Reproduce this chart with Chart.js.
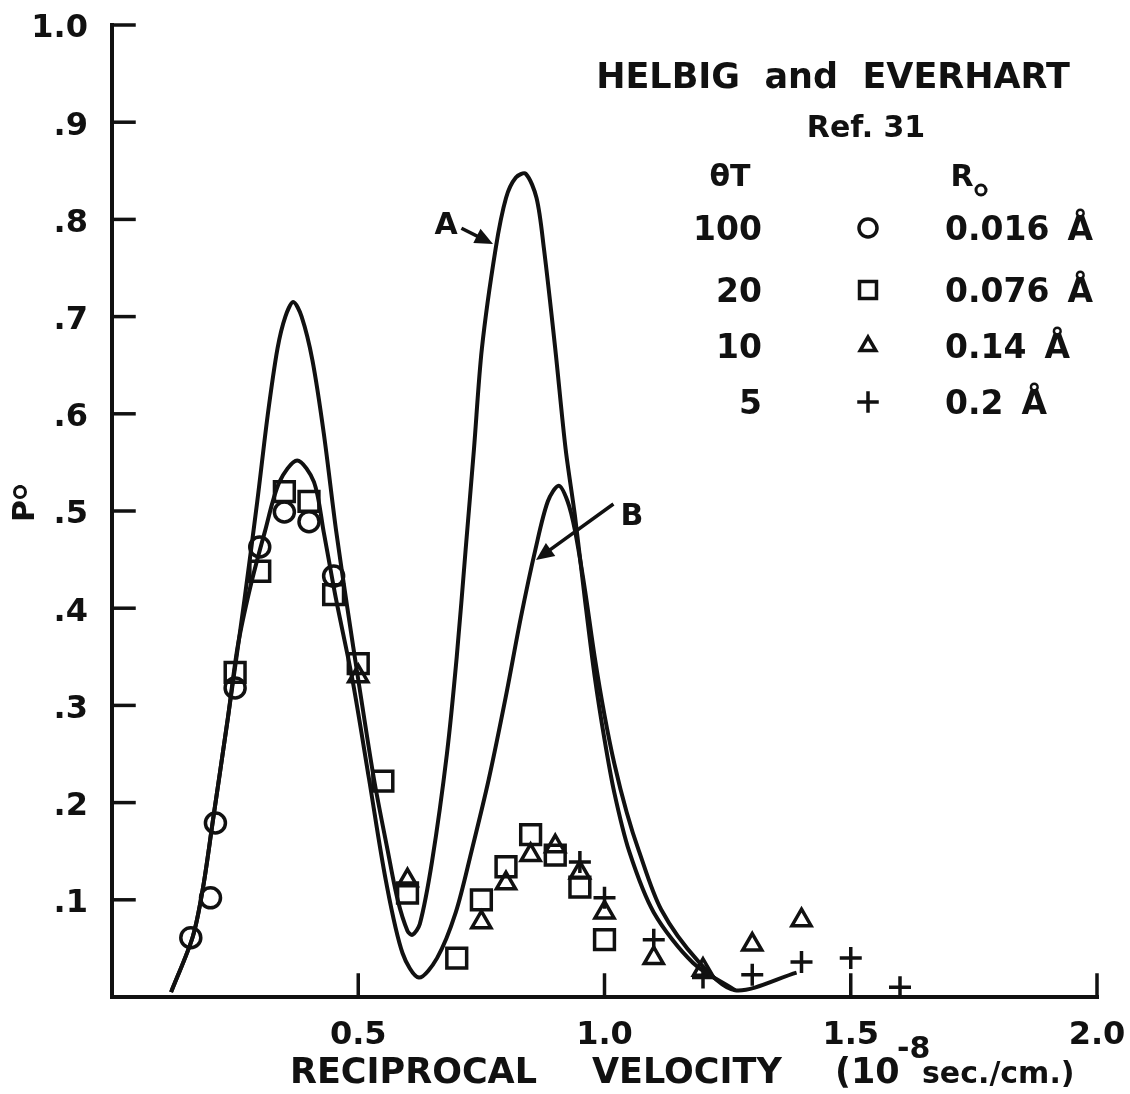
<!DOCTYPE html>
<html>
<head>
<meta charset="utf-8">
<script src="https://cdn.jsdelivr.net/npm/chart.js@4"></script>
<style>
  body { margin: 0; background: #fff; }
  #wrap { width: 1130px; height: 1094px; }
</style>
</head>
<body>
<div id="wrap"><canvas id="chart" width="1130" height="1094"></canvas></div>
<script>
// Data (x = reciprocal velocity, y = P0)
const xTicks = [0.5, 1.0, 1.5, 2.0];
const xTickLabels = ['0.5', '1.0', '1.5', '2.0'];
const yTicks = [0.1, 0.2, 0.3, 0.4, 0.5, 0.6, 0.7, 0.8, 0.9, 1.0];
const yTickLabels = ['.1', '.2', '.3', '.4', '.5', '.6', '.7', '.8', '.9', '1.0'];

// theta T = 100 (circles)
const circleX = [0.16, 0.20, 0.21, 0.25, 0.30, 0.35, 0.40, 0.45];
const circleY = [0.061, 0.102, 0.179, 0.318, 0.463, 0.499, 0.489, 0.433];
// theta T = 20 (squares)
const squareX = [0.25, 0.30, 0.35, 0.40, 0.45, 0.50, 0.55, 0.60, 0.70, 0.75, 0.80, 0.85, 0.90, 0.95, 1.00];
const squareY = [0.334, 0.438, 0.52, 0.51, 0.414, 0.343, 0.222, 0.107, 0.04, 0.10, 0.134, 0.167, 0.146, 0.113, 0.059];
// theta T = 10 (triangles)
const triX = [0.50, 0.60, 0.75, 0.80, 0.85, 0.90, 0.95, 1.00, 1.10, 1.20, 1.30, 1.40];
const triY = [0.33, 0.12, 0.077, 0.117, 0.146, 0.155, 0.128, 0.087, 0.04, 0.028, 0.054, 0.079];
// theta T = 5 (crosses)
const crossX = [0.95, 1.00, 1.10, 1.20, 1.30, 1.40, 1.50, 1.60];
const crossY = [0.139, 0.102, 0.059, 0.02, 0.023, 0.036, 0.04, 0.01];

// curve A
const curveAX = [0.12, 0.164, 0.185, 0.205, 0.235, 0.269, 0.295, 0.316, 0.336, 0.352, 0.368, 0.385, 0.407, 0.43, 0.455, 0.478, 0.502, 0.532, 0.56, 0.58, 0.60, 0.61, 0.625, 0.65, 0.68, 0.70, 0.718, 0.735, 0.751, 0.779, 0.80, 0.82, 0.84, 0.862, 0.877, 0.90, 0.921, 0.94, 0.96, 0.98, 1.0, 1.02, 1.05, 1.10, 1.18, 1.265];
const curveAY = [0.005, 0.062, 0.113, 0.182, 0.286, 0.409, 0.51, 0.598, 0.667, 0.70, 0.715, 0.70, 0.655, 0.58, 0.48, 0.40, 0.32, 0.224, 0.15, 0.10, 0.068, 0.064, 0.075, 0.14, 0.25, 0.35, 0.46, 0.564, 0.667, 0.77, 0.822, 0.843, 0.847, 0.822, 0.77, 0.667, 0.564, 0.495, 0.41, 0.33, 0.265, 0.21, 0.15, 0.087, 0.035, 0.007];
// curve B
const curveBX = [0.12, 0.164, 0.185, 0.205, 0.235, 0.255, 0.28, 0.31, 0.34, 0.376, 0.41, 0.43, 0.455, 0.488, 0.522, 0.556, 0.59, 0.623, 0.66, 0.698, 0.73, 0.765, 0.80, 0.83, 0.86, 0.885, 0.907, 0.925, 0.94, 0.96, 0.98, 1.0, 1.02, 1.045, 1.07, 1.115, 1.19, 1.265, 1.39];
const curveBY = [0.005, 0.062, 0.113, 0.182, 0.286, 0.36, 0.42, 0.478, 0.53, 0.552, 0.53, 0.478, 0.409, 0.327, 0.224, 0.12, 0.045, 0.02, 0.04, 0.087, 0.15, 0.224, 0.31, 0.39, 0.461, 0.51, 0.526, 0.51, 0.48, 0.42, 0.35, 0.29, 0.24, 0.19, 0.15, 0.09, 0.037, 0.007, 0.025];

const legendTheta = ['100', '20', '10', '5'];
const legendR = ['0.016', '0.076', '0.14', '0.2'];
const legendStyle = ['circle', 'rect', 'triangle', 'cross'];

const toPoints = (xs, ys) => xs.map((x, i) => ({ x: x, y: ys[i] }));
const INK = '#111';
const FONT = '"DejaVu Sans", sans-serif';

function markerSet(xs, ys, style, radius) {
    return {
        type: 'scatter',
        data: toPoints(xs, ys),
        showLine: false,
        pointStyle: style,
        pointRadius: radius,
        pointBorderWidth: 3.5,
        pointBorderColor: INK,
        pointBackgroundColor: 'rgba(0,0,0,0)'
    };
}

function curveSet(xs, ys) {
    return {
        type: 'line',
        data: toPoints(xs, ys),
        borderColor: INK,
        borderWidth: 4,
        pointRadius: 0,
        fill: false,
        tension: 0.3
    };
}

function arrow(ctx, x1, y1, x2, y2) {
    const a = Math.atan2(y2 - y1, x2 - x1);
    ctx.beginPath();
    ctx.moveTo(x1, y1);
    ctx.lineTo(x2 - 10 * Math.cos(a), y2 - 10 * Math.sin(a));
    ctx.stroke();
    ctx.beginPath();
    ctx.moveTo(x2, y2);
    ctx.lineTo(x2 - 18 * Math.cos(a) + 8 * Math.sin(a), y2 - 18 * Math.sin(a) - 8 * Math.cos(a));
    ctx.lineTo(x2 - 18 * Math.cos(a) - 8 * Math.sin(a), y2 - 18 * Math.sin(a) + 8 * Math.cos(a));
    ctx.closePath();
    ctx.fill();
}

// axes, ticks and all the lettering
const paperPlugin = {
    id: 'paper',
    afterDraw(chart) {
        const ctx = chart.ctx;
        const xs = chart.scales.x;
        const ys = chart.scales.y;
        const x0 = xs.getPixelForValue(0);
        const y0 = ys.getPixelForValue(0);
        ctx.save();
        ctx.strokeStyle = INK;
        ctx.fillStyle = INK;
        ctx.lineCap = 'square';

        // axis lines
        ctx.lineWidth = 4;
        ctx.beginPath();
        ctx.moveTo(x0, ys.getPixelForValue(1.0));
        ctx.lineTo(x0, y0);
        ctx.lineTo(xs.getPixelForValue(2.0), y0);
        ctx.stroke();

        // y ticks (inward) and labels
        ctx.lineWidth = 3.5;
        ctx.font = 'bold 32px ' + FONT;
        ctx.textAlign = 'right';
        ctx.textBaseline = 'middle';
        yTicks.forEach((v, i) => {
            const py = ys.getPixelForValue(v);
            ctx.beginPath();
            ctx.moveTo(x0, py);
            ctx.lineTo(x0 + 22, py);
            ctx.stroke();
            ctx.fillText(yTickLabels[i], 88, py + 4);
        });

        // x ticks (upward) and labels
        ctx.textAlign = 'center';
        ctx.textBaseline = 'alphabetic';
        xTicks.forEach((v, i) => {
            const px = xs.getPixelForValue(v);
            ctx.beginPath();
            ctx.moveTo(px, y0);
            ctx.lineTo(px, y0 - 22);
            ctx.stroke();
            ctx.fillText(xTickLabels[i], px, 1044);
        });

        // x axis title
        ctx.textAlign = 'left';
        ctx.font = 'bold 35px ' + FONT;
        ctx.fillText('RECIPROCAL', 290, 1083);
        ctx.fillText('VELOCITY', 592, 1083);
        ctx.fillText('(10', 835, 1083);
        ctx.font = 'bold 30px ' + FONT;
        ctx.fillText('-8', 897, 1058);
        ctx.fillText('sec./cm.)', 922, 1083);

        // y axis title (rotated P0)
        ctx.save();
        ctx.translate(34, 505);
        ctx.rotate(-Math.PI / 2);
        ctx.textAlign = 'center';
        ctx.font = 'bold 30px ' + FONT;
        ctx.fillText('P', -6, 0);
        ctx.lineWidth = 3;
        ctx.beginPath();
        ctx.arc(13, -14, 5.5, 0, Math.PI * 2);
        ctx.stroke();
        ctx.restore();

        // legend block
        ctx.textAlign = 'center';
        ctx.font = 'bold 35px ' + FONT;
        ctx.fillText('HELBIG  and  EVERHART', 833, 88);
        ctx.font = 'bold 30px ' + FONT;
        ctx.fillText('Ref. 31', 866, 137);
        ctx.fillText('\u03B8T', 730, 186);
        ctx.fillText('R', 962, 186);
        ctx.lineWidth = 3;
        ctx.beginPath();
        ctx.arc(981, 190, 5, 0, Math.PI * 2);
        ctx.stroke();

        const rowY = [240, 302, 358, 414];
        ctx.font = 'bold 33px ' + FONT;
        legendTheta.forEach((t, i) => {
            const ry = rowY[i];
            ctx.textAlign = 'right';
            ctx.fillText(t, 762, ry);
            ctx.textAlign = 'left';
            const w = ctx.measureText(legendR[i]).width;
            ctx.fillText(legendR[i], 945, ry);
            ctx.fillText('\u00C5', 945 + w + 18, ry);
            ctx.lineWidth = 3.5;
            ctx.fillStyle = 'rgba(0,0,0,0)';
            Chart.helpers.drawPoint(ctx, {
                pointStyle: legendStyle[i],
                radius: legendStyle[i] === 'rect' ? 12 : 9,
                borderWidth: 3.5,
                rotation: 0
            }, 868, ry - 12);
            ctx.fillStyle = INK;
        });

        // curve labels
        ctx.font = 'bold 30px ' + FONT;
        ctx.textAlign = 'center';
        ctx.fillText('A', 446, 234);
        ctx.fillText('B', 632, 525);
        ctx.lineWidth = 3.5;
        arrow(ctx, 463, 229, 493, 244);
        arrow(ctx, 612, 505, 536, 560);

        ctx.restore();
    }
};

new Chart(document.getElementById('chart'), {
    data: {
        datasets: [
            curveSet(curveAX, curveAY),
            curveSet(curveBX, curveBY),
            markerSet(circleX, circleY, 'circle', 10),
            markerSet(squareX, squareY, 'rect', 14),
            markerSet(triX, triY, 'triangle', 11),
            markerSet(crossX, crossY, 'cross', 11)
        ]
    },
    options: {
        responsive: false,
        animation: false,
        layout: { padding: { left: 112, top: 25, right: 33, bottom: 97 } },
        plugins: { legend: { display: false }, tooltip: { enabled: false } },
        scales: {
            x: { type: 'linear', min: 0, max: 2.0, display: false },
            y: { type: 'linear', min: 0, max: 1.0, display: false }
        }
    },
    plugins: [paperPlugin]
});
</script>
</body>
</html>
